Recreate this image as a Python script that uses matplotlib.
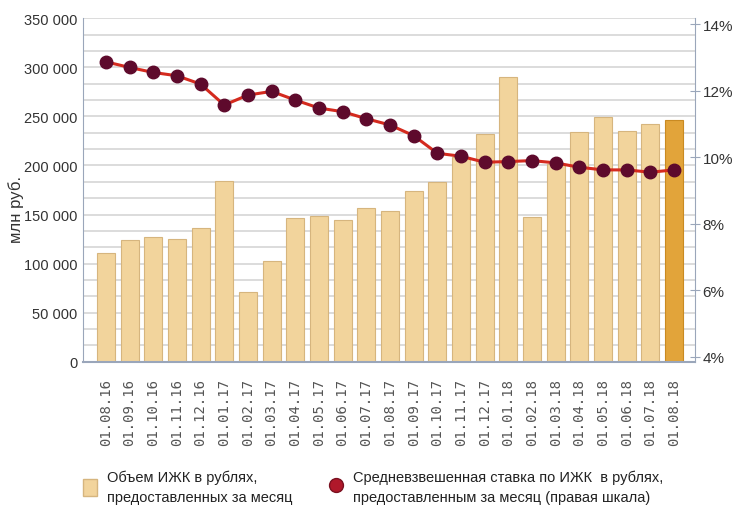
import matplotlib.pyplot as plt
import numpy as np
from matplotlib.lines import Line2D
from matplotlib.patches import Patch

dates = ["01.08.16", "01.09.16", "01.10.16", "01.11.16", "01.12.16",
         "01.01.17", "01.02.17", "01.03.17", "01.04.17", "01.05.17",
         "01.06.17", "01.07.17", "01.08.17", "01.09.17", "01.10.17",
         "01.11.17", "01.12.17", "01.01.18", "01.02.18", "01.03.18",
         "01.04.18", "01.05.18", "01.06.18", "01.07.18", "01.08.18"]
volume = [110500, 124500, 127000, 125000, 136000,
          184000, 71000, 103000, 146000, 149000,
          144000, 157000, 154000, 174000, 183000,
          209000, 232000, 290000, 148000, 202000,
          234000, 249000, 235000, 242000, 246000]
rate = [12.87, 12.70, 12.55, 12.45, 12.20,
        11.57, 11.87, 11.98, 11.72, 11.48,
        11.37, 11.16, 10.97, 10.65, 10.12,
        10.03, 9.85, 9.87, 9.90, 9.83,
        9.70, 9.62, 9.62, 9.55, 9.62]

plt.rcParams['font.family'] = ['Liberation Sans', 'DejaVu Sans']

fig = plt.figure(figsize=(7.34, 5.06), dpi=100)
ax = fig.add_axes([0.113, 0.283, 0.834, 0.679])

x = np.arange(len(dates))
colors = ['#F2D49C'] * (len(dates) - 1) + ['#E2A43A']
edges = ['#D6B57E'] * (len(dates) - 1) + ['#C98A22']
for yv in np.linspace(0, 350000, 22):
    ax.axhline(yv, color='#D9D9D9', lw=1.3, zorder=0)
ax.bar(x, volume, width=0.76, color=colors, edgecolor=edges, lw=0.8, zorder=2)

ax.set_xlim(-0.97, 24.89)
ax.set_ylim(0, 350000)
ax.set_yticks(range(0, 350001, 50000))
ax.set_yticklabels(['0' if v == 0 else f"{v // 1000} 000" for v in range(0, 350001, 50000)],
                   fontsize=10.5, color='#333333')
ax.set_xticks(x)
ax.set_xticklabels(dates, rotation=90, fontsize=10, family='DejaVu Sans Mono', color='#555555')
ax.tick_params(axis='x', length=0, pad=12)
ax.tick_params(axis='y', length=0, pad=4)
for s in ['top', 'right']:
    ax.spines[s].set_visible(False)
ax.spines['left'].set_color('#9AA6BA')
ax.spines['bottom'].set_color('#9AA6BA')
ax.spines['bottom'].set_linewidth(1.5)
ax.set_ylabel("млн руб.", fontsize=12, color='#333333')
ax.yaxis.set_label_coords(-0.097, 0.445)

ax2 = ax.twinx()
ax2.plot(x, rate, color='#D42A1E', lw=2.2, marker='o', markersize=9,
         markerfacecolor='#5E0A2C', markeredgecolor='#5E0A2C', zorder=3)
ax2.set_ylim(3.85, 14.18)
ax2.set_yticks([4, 6, 8, 10, 12, 14])
ax2.set_yticklabels(["4%", "6%", "8%", "10%", "12%", "14%"], fontsize=11, color='#333333')
ax2.tick_params(axis='y', direction='inout', length=7, color='#9AA6BA', pad=2)
for s in ['top', 'left', 'bottom']:
    ax2.spines[s].set_visible(False)
ax2.spines['right'].set_color('#9AA6BA')

handles = [Patch(facecolor='#F2D49C', edgecolor='#D6B57E'),
           Line2D([], [], marker='o', ls='none', markersize=10,
                  markerfacecolor='#B0182A', markeredgecolor='#7A1020')]
labels = ["Объем ИЖК в рублях,\nпредоставленных за месяц",
          "Средневзвешенная ставка по ИЖК  в рублях,\nпредоставленным за месяц (правая шкала)"]
leg = fig.legend(handles, labels, loc='lower left', bbox_to_anchor=(0.095, -0.024), ncol=2,
                 frameon=False, fontsize=10.5, columnspacing=2.5, handlelength=1.0,
                 handleheight=1.5, handletextpad=0.65, labelcolor='#222222')
for t in leg.get_texts():
    t.set_linespacing(1.55)

fig.savefig('out.png', dpi=100)
